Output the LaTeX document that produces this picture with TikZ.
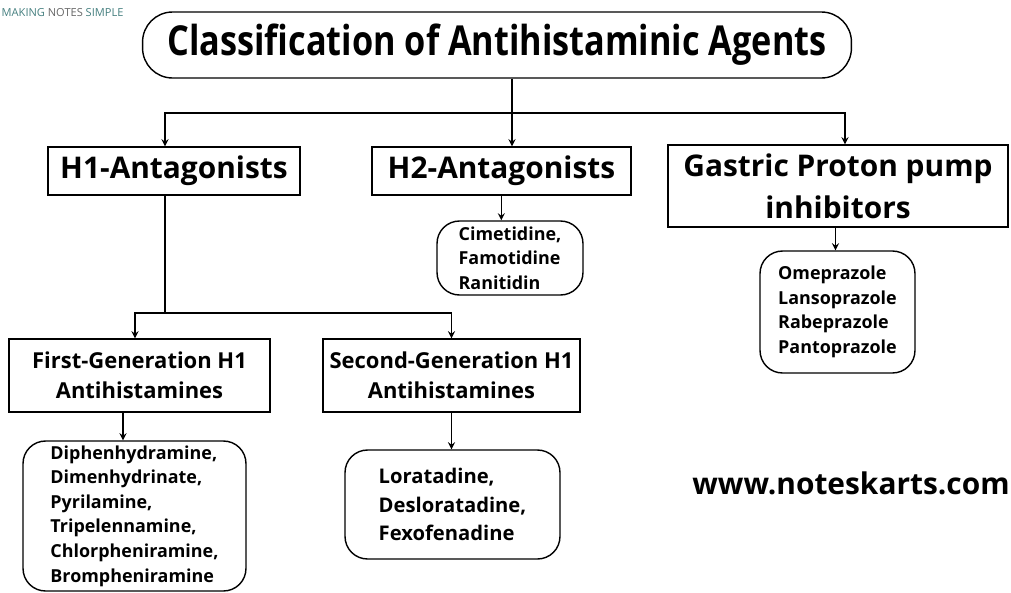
\documentclass[tikz,border=0pt]{standalone}
\usepackage{fontspec}
\setmainfont{Open Sans}
\usetikzlibrary{positioning,arrows}

\begin{document}
\begin{tikzpicture}[x=0.02cm,y=-0.02cm,>=stealth,line width=0.8pt,
	grp/.style={draw,align=center,inner sep=0pt,font=\bfseries\fontsize{17}{24}\selectfont},
	sub/.style={draw,align=center,inner sep=0pt,font=\bfseries\fontsize{12.5}{17}\selectfont},
	drugs/.style={draw,rounded corners=0.45cm,align=left,inner sep=0pt,font=\bfseries\fontsize{10.2}{14}\selectfont}]
	\useasboundingbox (0,0) rectangle (1011,592);
	\node[anchor=west,inner sep=0pt,text=teal!45!gray,font=\fontsize{6.3}{8}\selectfont] (tag) at (1,13) {MAKING \textcolor{gray!80!black}{NOTES} SIMPLE};
	\node[draw,rounded corners=0.6cm,minimum width=14.18cm,minimum height=1.32cm,font=\bfseries\fontsize{23.5}{28}\selectfont] (title) at (497,45) {\scalebox{0.83}[1]{Classification of Antihistaminic Agents}};

	\node[grp,minimum width=5.04cm,minimum height=0.96cm] (h1) at (174,171) {H1-Antagonists};
	\node[grp,minimum width=5.18cm,minimum height=0.96cm] (h2) at (501.5,171) {H2-Antagonists};
	\node[grp,minimum width=6.8cm,minimum height=1.64cm] (gpp) at (838,186) {Gastric Proton pump\\inhibitors};

	\node[drugs,minimum width=2.92cm,minimum height=1.48cm] (cime) at (510,258) {Cimetidine,\\Famotidine\\Ranitidin};
	\node[drugs,minimum width=3.1cm,minimum height=2.44cm] (ome) at (837.5,312) {Omeprazole\\Lansoprazole\\Rabeprazole\\Pantoprazole};

	\node[sub,minimum width=5.22cm,minimum height=1.46cm] (first) at (139.5,375.5) {First-Generation H1\\Antihistamines};
	\node[sub,minimum width=5.14cm,minimum height=1.46cm] (second) at (451.5,375.5) {Second-Generation H1\\Antihistamines};

	\node[drugs,minimum width=4.46cm,minimum height=3cm] (flist) at (134.5,516) {Diphenhydramine,\\Dimenhydrinate,\\Pyrilamine,\\Tripelennamine,\\Chlorpheniramine,\\Brompheniramine};
	\node[drugs,minimum width=4.3cm,minimum height=2.18cm,font=\bfseries\fontsize{11.5}{16}\selectfont] (slist) at (452.5,504.5) {Loratadine,\\Desloratadine,\\Fexofenadine\hspace{0.3cm}};

	\node[font=\bfseries\fontsize{17}{20}\selectfont] (web) at (851,483) {www.noteskarts.com};

	% main split
	\coordinate (split) at (512,113);
	\draw (title.south -| split) -- (split);
	\draw[->] (split) -| ([xshift=-0.18cm]h1.north);
	\draw[->] (split) -- (split |- h2.north);
	\draw[->] (split) -| ([xshift=0.14cm]gpp.north);

	\draw[->] (h2.south -| cime.north west) ++(65,0) coordinate (c2) -- (c2 |- cime.north);
	\draw[->] ([xshift=-0.05cm]gpp.south) -- ([xshift=-0.05cm]gpp.south |- ome.north);

	% H1 split
	\coordinate (h1split) at (165,313);
	\draw (h1.south -| h1split) -- (h1split);
	\draw[->] (h1split) -| ([xshift=-0.09cm]first.north);
	\draw[->] (h1split) -| (second.north);

	\draw[->] ([xshift=-0.33cm]first.south) -- ([xshift=-0.33cm]first.south |- flist.north);
	\draw[->] (second.south) -- (second.south |- slist.north);
\end{tikzpicture}
\end{document}
